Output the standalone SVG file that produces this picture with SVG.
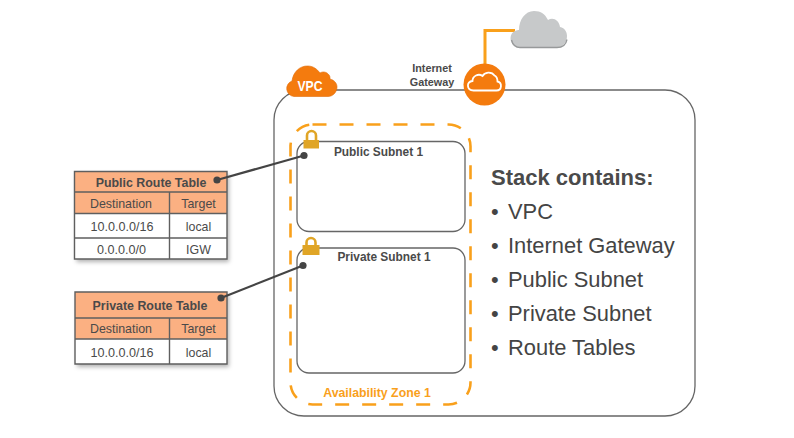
<svg xmlns="http://www.w3.org/2000/svg" width="794" height="438" viewBox="0 0 794 438">
<style>
text{font-family:"Liberation Sans",Arial,sans-serif;fill:#4a4a4a;text-anchor:middle}
.b{font-weight:bold}
.t{font-size:12.4px}
.v{font-size:12.6px}
.lbl{font-size:10.800px;font-weight:bold}
.sub{font-size:11.900px;font-weight:bold}
.list{font-size:21.900px;text-anchor:start;fill:#444}
.g{fill:none;stroke:#666;stroke-width:1.3}
.grid{fill:none;stroke:#5f5f5f;stroke-width:1.4}
.h{fill:#fbb082}
.lock{fill:#e0a526}
.shackle{fill:none;stroke:#e0a526;stroke-width:2.6}
</style>
<defs>
<filter id="sh" x="-10%" y="-10%" width="125%" height="125%"><feDropShadow dx="2" dy="3" stdDeviation="2" flood-color="#000" flood-opacity="0.3"/></filter>
</defs>
<g id="connectors">
<path d="M485 64V30.500H515" fill="none" stroke="#f9a01b" stroke-width="3"/>
</g>
<g id="vpc">
<rect class="g" x="274" y="90" width="421" height="326" rx="30"/>
<path d="M294 96.500a8 8 0 0 1-2-15.500c1-9 8-15.500 16-15 5 0 9 3 12 7 3-2 7-1 9 2 1 1 1 2 1 4 4 1 7 4 7 8 0 5-4 9.500-9 9.500z" fill="#f47b0e" stroke="#e06d0a" stroke-width="0.6"/>
<text x="310" y="91" class="b" style="fill:#fff;font-size:15px" textLength="25" lengthAdjust="spacingAndGlyphs">VPC</text>
</g>
<g id="internet-gateway">
<circle cx="484.500" cy="84.500" r="21" fill="#f47b0e"/>
<path d="M473.500 90.500c-7 0-7.500-9-1-9.500 0-5 6-8 10-5 2-4 9-5 12-.5 2 1 3 3 3 6 5 1 4.500 9-1 9z" fill="none" stroke="#fff" stroke-width="1.800"/>
<text x="432" y="72" class="lbl">Internet</text>
<text x="432" y="86" class="lbl">Gateway</text>
</g>
<g id="cloud">
<path d="M520 47c-11 0-12-13-5-16 2-1 3-1 4-1 0-10 6-19 15-19 7 0 11 3 14 9 5-3 11 0 12 7 5 1 7 5 7 9 0 6-4 11-10 11z" fill="#c7c9ca"/>
<path d="M511.500 40c1 4 4 7.500 8.500 7.500h37c5 0 9-3 10-8" fill="none" stroke="#97999a" stroke-width="1.300"/>
</g>
<g id="availability-zone">
<rect x="290.500" y="124.500" width="180" height="280" rx="22" fill="none" stroke="#f9a01b" stroke-width="2.600" stroke-dasharray="14 13"/>
<text x="377" y="397" class="b" style="fill:#f9a01b;font-size:12.300px">Availability Zone 1</text>
</g>
<g id="public-subnet">
<rect class="g" x="297" y="141.500" width="168" height="90" rx="12"/>
<text x="378.500" y="156" class="sub">Public Subnet 1</text>
<path class="shackle" d="M307 140v-4.500a4.500 4.500 0 0 1 9 0V140"/>
<rect class="lock" x="303.500" y="140" width="15.500" height="8.500"/>
</g>
<g id="private-subnet">
<rect class="g" x="297" y="248" width="168" height="125" rx="12"/>
<text x="384" y="261" class="sub">Private Subnet 1</text>
<path class="shackle" d="M306.500 245v-2.500a4.500 4.500 0 0 1 9 0V245"/>
<rect class="lock" x="302.500" y="245" width="17" height="10"/>
</g>
<g id="public-route-table">
<g filter="url(#sh)"><rect x="74.500" y="171.500" width="152.500" height="87.500" fill="#fff"/></g>
<rect class="h" x="74.500" y="171.500" width="152.500" height="42"/>
<path class="grid" d="M74.500 171.500H227V259H74.500zM74.500 192H227M74.500 213.500H227M74.500 238H227M169.500 192V259"/>
<text x="151" y="187" class="b t">Public Route Table</text>
<text x="121" y="207.500" class="t">Destination</text>
<text x="198.500" y="207.500" class="t">Target</text>
<text x="122" y="231" class="v">10.0.0.0/16</text>
<text x="198.500" y="231" class="t">local</text>
<text x="121.500" y="254" class="v">0.0.0.0/0</text>
<text x="198.500" y="254" class="t">IGW</text>
</g>
<g id="private-route-table">
<g filter="url(#sh)"><rect x="75" y="292" width="152" height="72" fill="#fff"/></g>
<rect class="h" x="75" y="292" width="152" height="47"/>
<path class="grid" d="M75 292H227V364H75zM75 318H227M75 339H227M169.500 318V364"/>
<text x="150" y="310" class="b t">Private Route Table</text>
<text x="121" y="333" class="t">Destination</text>
<text x="198.500" y="333" class="t">Target</text>
<text x="122" y="357" class="v">10.0.0.0/16</text>
<text x="198.500" y="357" class="t">local</text>
</g>
<g id="leader-lines" fill="#444" stroke="#444">
<path d="M217 180L304 155.500" stroke-width="2.200"/>
<circle cx="217" cy="180" r="3.600" stroke="none"/>
<circle cx="304" cy="155.500" r="3.600" stroke="none"/>
<path d="M221 298L303 265.500" stroke-width="2.200"/>
<circle cx="221" cy="298" r="3.600" stroke="none"/>
<circle cx="303" cy="265.500" r="3.600" stroke="none"/>
</g>
<g id="stack-text">
<text x="491" y="185" class="b" style="text-anchor:start;font-size:22px">Stack contains:</text>
<text x="491" y="219" class="list">•</text><text x="508" y="219" class="list">VPC</text>
<text x="491" y="253" class="list">•</text><text x="508" y="253" class="list">Internet Gateway</text>
<text x="491" y="287" class="list">•</text><text x="508" y="287" class="list">Public Subnet</text>
<text x="491" y="321" class="list">•</text><text x="508" y="321" class="list">Private Subnet</text>
<text x="491" y="355" class="list">•</text><text x="508" y="355" class="list">Route Tables</text>
</g>
</svg>
